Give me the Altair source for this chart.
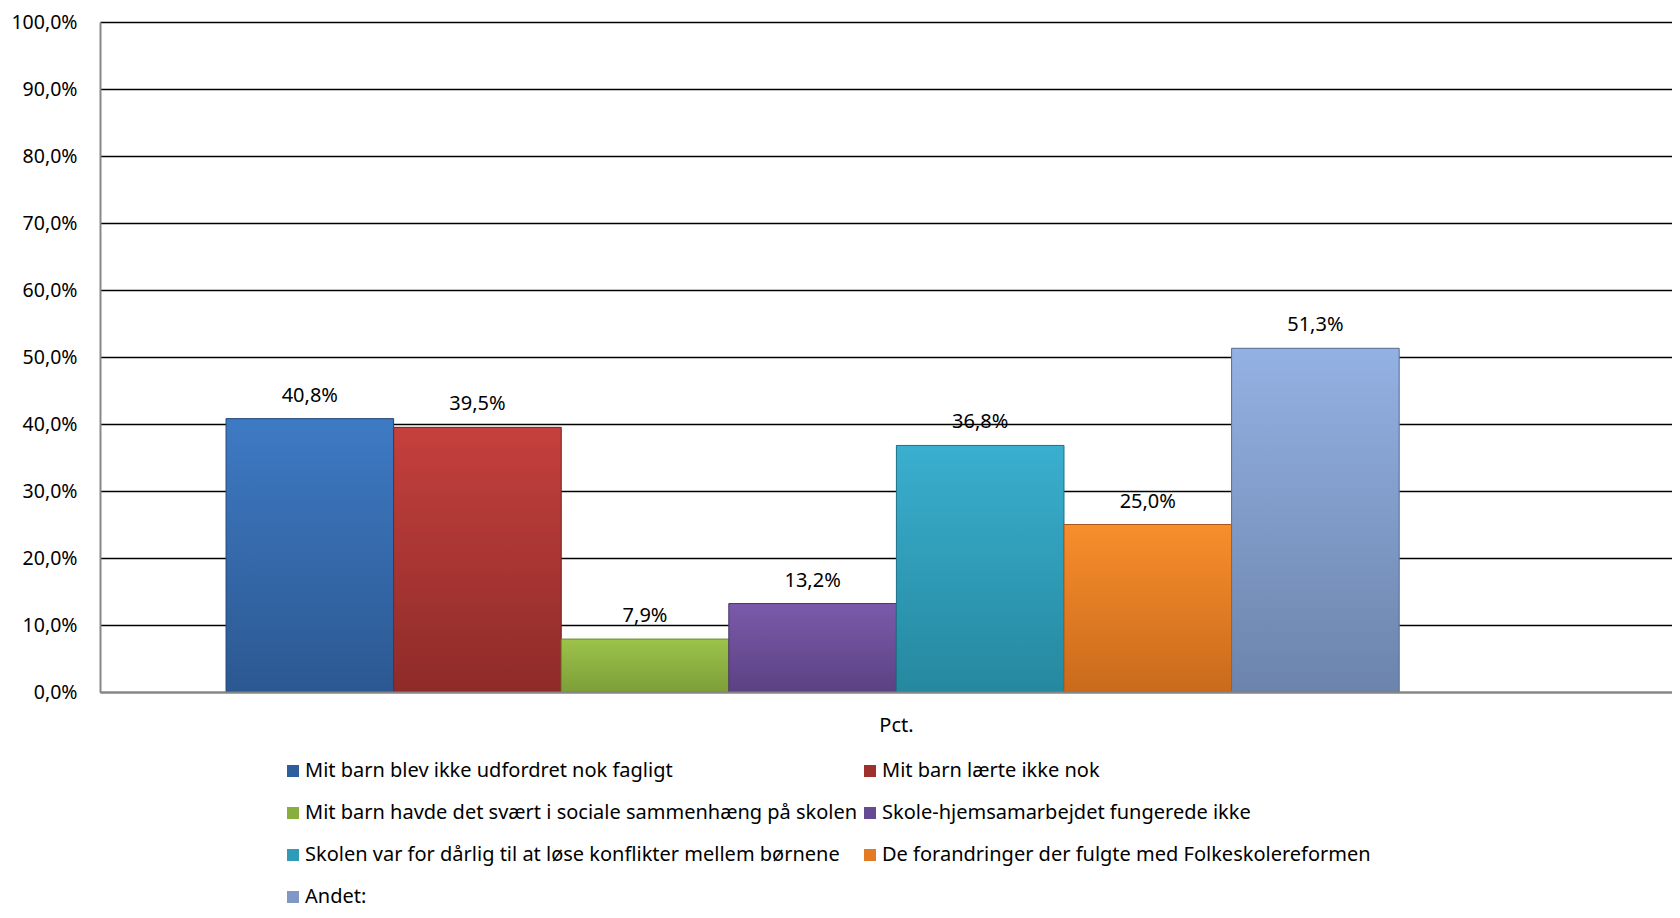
import altair as alt
import pandas as pd

# ---- data ----
categories = ["Pct."]
series = [
    "Mit barn blev ikke udfordret nok fagligt",
    "Mit barn lærte ikke nok",
    "Mit barn havde det svært i sociale sammenhæng på skolen",
    "Skole-hjemsamarbejdet fungerede ikke",
    "Skolen var for dårlig til at løse konflikter mellem børnene",
    "De forandringer der fulgte med Folkeskolereformen",
    "Andet:",
]
values = [40.8, 39.5, 7.9, 13.2, 36.8, 25.0, 51.3]
y_ticks = [0, 10, 20, 30, 40, 50, 60, 70, 80, 90, 100]

swatch_colors = ["#2F5E9E", "#9E302E", "#88AE3E", "#654C92", "#2F9BB8", "#E27B24", "#8098C6"]
grad_top = ["#3E7AC4", "#C4403D", "#9CC34B", "#7A5AAA", "#3AAFCF", "#F88E2C", "#93B1E3"]
grad_bottom = ["#2C5891", "#8E2B29", "#7D9E38", "#5B4283", "#25889F", "#C96A1C", "#6C84AC"]
edge_colors = ["#24497A", "#7A2422", "#6A8A2E", "#4C376F", "#1F7288", "#A9571A", "#5A6F92"]

df = pd.DataFrame({"cat": [categories[0]] * len(series), "series": series, "value": values})

# legend is laid out column by column, so order entries to read row by row
legend_order = series[0::2] + series[1::2]
legend_colors = swatch_colors[0::2] + swatch_colors[1::2]

FONT = "Noto Sans"
LABEL_EXPR = "replace(format(datum.value, '.1f'), '.', ',') + '%'"

x_enc = alt.X(
    "cat:N",
    scale=alt.Scale(domain=categories, paddingInner=0, paddingOuter=0.17, align=0.316),
    axis=alt.Axis(
        labels=False,
        ticks=False,
        title=categories[0],
        domainColor="#878787",
        domainWidth=2,
        titleFont=FONT,
        titleFontSize=20,
        titleFontWeight="normal",
        titleColor="#000000",
        titleX=796,
        titleY=33,
        titleBaseline="middle",
        titleAlign="center",
        zindex=1,
    ),
)
xoff_enc = alt.XOffset(
    "series:N", sort=series,
    scale=alt.Scale(domain=series, paddingInner=0, paddingOuter=0),
)
y_enc = alt.Y(
    "value:Q",
    scale=alt.Scale(domain=[0, 100], nice=False, zero=True),
    axis=alt.Axis(
        values=y_ticks,
        title=None,
        labelExpr=LABEL_EXPR,
        labelFont=FONT,
        labelFontSize=19.5,
        labelColor="#000000",
        labelPadding=23,
        ticks=False,
        domainColor="#878787",
        domainWidth=2,
        gridColor="#000000",
        gridWidth=1.6,
    ),
)

base = alt.Chart(df).mark_bar().encode(
    x=x_enc,
    xOffset=xoff_enc,
    y=y_enc,
    color=alt.Color(
        "series:N",
        sort=legend_order,
        scale=alt.Scale(domain=legend_order, range=legend_colors),
        legend=alt.Legend(
            title=None,
            orient="none",
            legendX=183,
            legendY=739,
            columns=2,
            symbolType="square",
            symbolSize=144,
            symbolStrokeWidth=0,
            symbolOpacity=1,
            labelFont=FONT,
            labelFontSize=20,
            labelColor="#000000",
            labelLimit=0,
            labelOffset=2,
            rowPadding=22,
            columnPadding=2,
        ),
    ),
)

layers = [base]
for i, name in enumerate(series):
    layers.append(
        alt.Chart(df)
        .transform_filter(alt.datum.series == name)
        .mark_bar(
            color=alt.LinearGradient(
                gradient="linear",
                stops=[
                    alt.GradientStop(color=grad_top[i], offset=0),
                    alt.GradientStop(color=grad_bottom[i], offset=1),
                ],
                x1=0, x2=0, y1=0, y2=1,
            ),
            stroke=edge_colors[i],
            strokeWidth=1,
        )
        .encode(x=x_enc, xOffset=xoff_enc, y=y_enc)
    )

labels = (
    alt.Chart(df)
    .transform_calculate(label=LABEL_EXPR)
    .mark_text(font=FONT, fontSize=20, dy=-23, baseline="middle", color="#000000")
    .encode(x=x_enc, xOffset=xoff_enc, y=y_enc, text="label:N")
)
layers.append(labels)

chart = (
    alt.layer(*layers)
    .properties(
        width=1572,
        height=670,
        autosize=alt.AutoSizeParams(type="none"),
        padding={"left": 92, "top": 14, "right": 0, "bottom": 216},
        background="#ffffff",
    )
    .configure_view(stroke=None)
)

chart.save("out.html", embed_options={"renderer": "svg", "actions": False})
